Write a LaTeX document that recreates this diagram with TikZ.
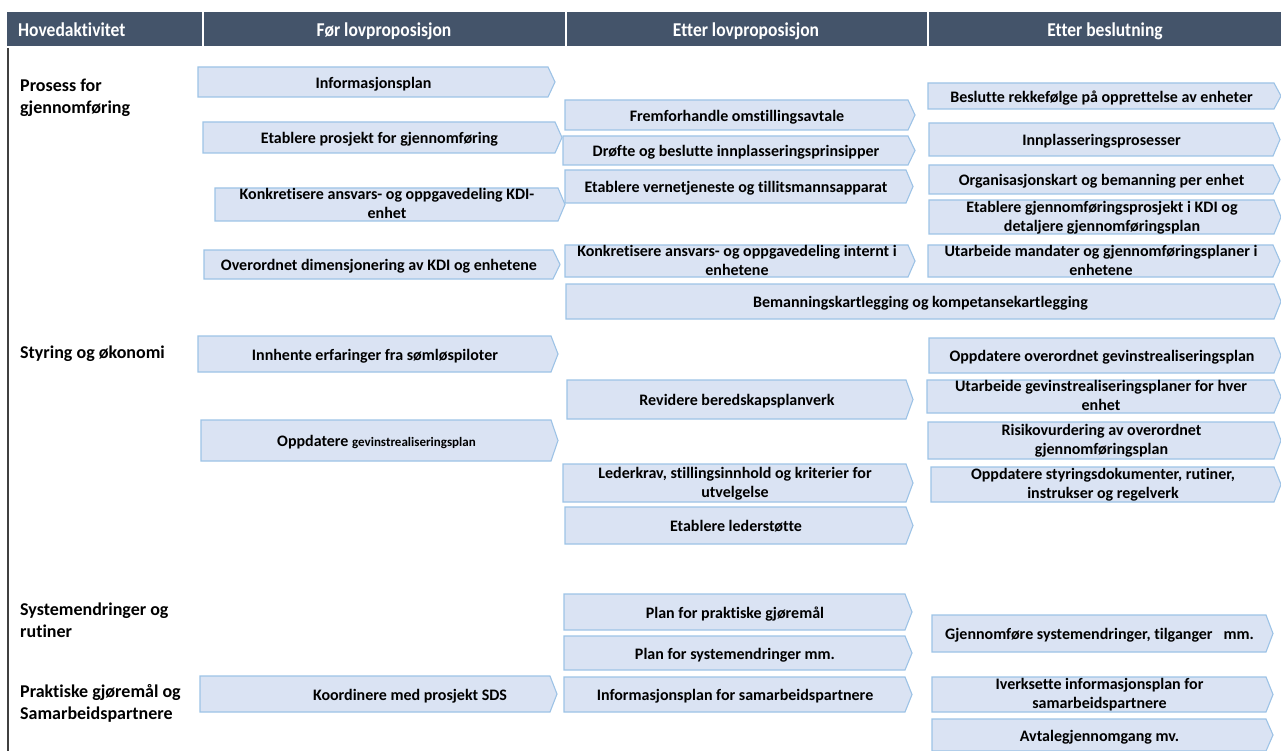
\documentclass[tikz,border=0pt]{standalone}
\usepackage{fontspec}
\setmainfont{Carlito}[Ligatures={NoCommon,NoContextual}]
\definecolor{hdr}{RGB}{68,84,106}
\definecolor{bfill}{RGB}{218,227,243}
\definecolor{bdraw}{RGB}{157,195,230}
\definecolor{vline}{RGB}{64,64,64}
\newcommand\vph{\vphantom{Åg}}
\tikzset{
  pbox/.style={fill=bfill,draw=bdraw,line width=1.1pt,line join=miter},
  ptext/.style={font=\fontsize{16}{19}\selectfont\bfseries,align=center,inner sep=0pt,text=black,
    execute at begin node=\vph, execute at end node=\vph, yshift=-0.5pt},
  psmall/.style={ptext},
  hdrtext/.style={font=\fontsize{17.5}{20}\selectfont\bfseries,text=white,inner sep=0pt},
  lbl/.style={font=\fontsize{18}{22}\selectfont\bfseries,align=left,anchor=west,inner sep=0pt,text=black},
}
% \pb[style]{name}{x1}{y1}{x2}{y2}{text}
\newcommand\pb[7][ptext]{%
  \draw[pbox] (#3,#4) -- ({#5-7},#4) -- (#5,{(#4+#6)/2}) -- ({#5-7},#6) -- (#3,#6) -- cycle;
  \node[#1] (#2) at ({(#3+#5)/2-3},{(#4+#6)/2}) {#7};}
\newcommand\hd[1]{\scalebox{1}[1.12]{\vphantom{Åg}#1}}
\begin{document}
\begin{tikzpicture}[x=1pt,y=-1pt]
\useasboundingbox (0,0) rectangle (1281,751);
% header
\fill[hdr] (7,12) rectangle (202,46);
\fill[hdr] (204,12) rectangle (565,46);
\fill[hdr] (567,12) rectangle (927,46);
\fill[hdr] (929,12) rectangle (1281,46);
\node[hdrtext,anchor=west] (h1) at (18,29.5) {\hd{Hovedaktivitet}};
\node[hdrtext] (h2) at (384,29.5) {\hd{Før lovproposisjon}};
\node[hdrtext] (h3) at (746,29.5) {\hd{Etter lovproposisjon}};
\node[hdrtext] (h4) at (1105,29.5) {\hd{Etter beslutning}};
% left line
\coordinate (lt) at (8,48);
\coordinate (lb) at (8,751);
\draw[vline,line width=1.5pt] (lt) -- (lb);
% left labels
\node[lbl] (l1) at (20,97.5) {Prosess for\\gjennomføring};
\node[lbl] (l2) at (20,353.5) {Styring og økonomi};
\node[lbl] (l3) at (20,620.5) {Systemendringer og\\rutiner};
\node[lbl] (l4) at (20,703.5) {Praktiske gjøremål og\\Samarbeidspartnere};
% column 1
\pb{a1}{198}{67}{555}{97}{Informasjonsplan}
\pb{a2}{203}{122}{562}{153}{Etablere prosjekt for gjennomføring}
\pb{a3}{215}{188}{565}{221}{Konkretisere ansvars- og oppgavedeling KDI-\\enhet}
\pb{a4}{204}{250}{560}{279}{Overordnet dimensjonering av KDI og enhetene}
\pb{a5}{198}{336}{558}{372}{Innhente erfaringer fra sømløspiloter}
\pb{a6}{201}{420}{558}{461}{Oppdatere {\fontsize{13}{15}\selectfont gevinstrealiseringsplan}}
\draw[pbox] (200,676) -- (550,676) -- (557,694) -- (550,712) -- (200,712) -- cycle;
\node[psmall] (a7) at (410,694) {Koordinere med prosjekt SDS};
% column 2
\pb{b1}{565}{100}{915}{130}{Fremforhandle omstillingsavtale}
\pb{b2}{563}{136}{915}{165}{Drøfte og beslutte innplasseringsprinsipper}
\pb{b3}{565}{170}{913}{203}{Etablere vernetjeneste og tillitsmannsapparat}
\pb{b4}{565}{245}{915}{277}{Konkretisere ansvars- og oppgavedeling internt i\\enhetene}
\pb{b5}{566}{284}{1281}{319}{Bemanningskartlegging og kompetansekartlegging}
\pb{b6}{567}{380}{913}{419}{Revidere beredskapsplanverk}
\pb{b7}{563}{464}{913}{502}{Lederkrav, stillingsinnhold og kriterier for\\utvelgelse}
\pb{b8}{565}{507}{913}{544}{Etablere lederstøtte}
\pb[psmall]{b9}{564}{594}{912}{630}{Plan for praktiske gjøremål}
\pb[psmall]{b10}{564}{636}{912}{670}{Plan for systemendringer mm.}
\pb[psmall]{b11}{564}{677}{912}{712}{Informasjonsplan for samarbeidspartnere}
% column 3
\pb{c1}{928}{83}{1281}{109}{Beslutte rekkefølge på opprettelse av enheter}
\pb{c2}{929}{123}{1280}{156}{Innplasseringsprosesser}
\pb{c3}{929}{165}{1280}{194}{Organisasjonskart og bemanning per enhet}
\pb{c4}{929}{200}{1281}{234}{Etablere gjennomføringsprosjekt i KDI og\\detaljere gjennomføringsplan}
\pb{c5}{928}{245}{1280}{277}{Utarbeide mandater og gjennomføringsplaner i\\enhetene}
\pb{c6}{929}{338}{1281}{373}{Oppdatere overordnet gevinstrealiseringsplan}
\pb{c7}{927}{380}{1281}{413}{Utarbeide gevinstrealiseringsplaner for hver\\enhet}
\pb{c8}{928}{422}{1281}{459}{Risikovurdering av overordnet\\gjennomføringsplan}
\pb{c9}{931}{467}{1281}{502}{Oppdatere styringsdokumenter, rutiner,\\instrukser og regelverk}
\pb[psmall]{c10}{932}{615}{1273}{652}{Gjennomføre systemendringer, tilganger\ \ \ mm.}
\pb[psmall]{c11}{932}{677}{1273}{712}{Iverksette informasjonsplan for\\samarbeidspartnere}
\pb[psmall]{c12}{932}{719}{1273}{751}{Avtalegjennomgang mv.}
\end{tikzpicture}
\end{document}
